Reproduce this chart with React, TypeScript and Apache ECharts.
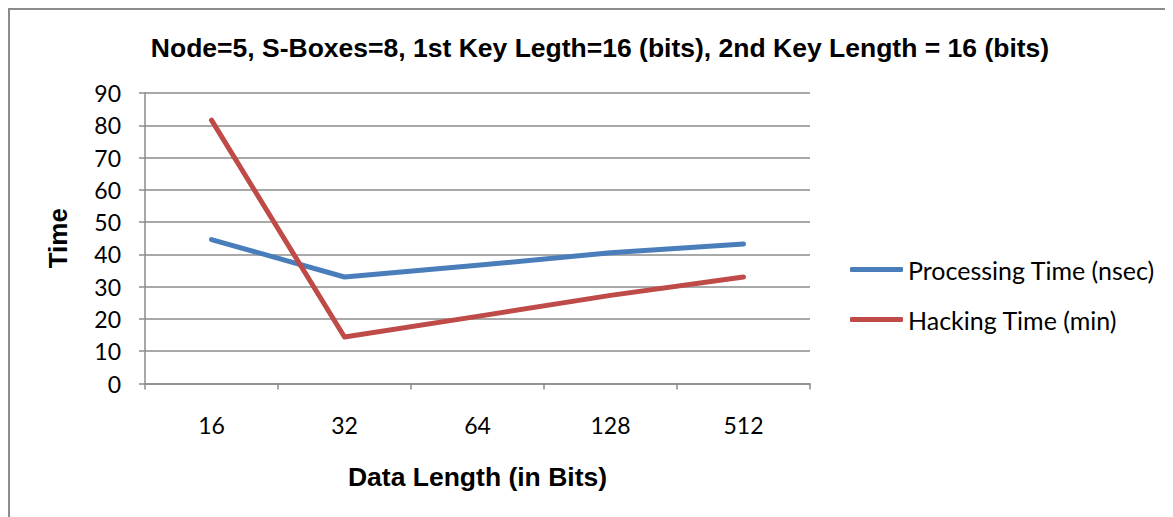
import React, { useEffect, useRef } from "react";
import * as echarts from "echarts";

const categories = ["16", "32", "64", "128", "512"];
const processingTime = [44.6, 33.0, 36.6, 40.5, 43.2];
const hackingTime = [81.6, 14.4, 20.8, 27.3, 33.0];
const seriesNames = ["Processing Time (nsec)", "Hacking Time (min)"];
const yTicks = { min: 0, max: 90, interval: 10 };

const labelFont = "Lato, 'Open Sans', sans-serif";
const boldFont = "'Liberation Sans', Arial, sans-serif";

export default function App() {
  const ref = useRef<HTMLDivElement>(null);
  useEffect(() => {
    if (!ref.current) return;
    const chart = echarts.init(ref.current, null, { renderer: "svg" });
    chart.setOption({
      animation: false,
      backgroundColor: "#ffffff",
      title: {
        text: "Node=5, S-Boxes=8, 1st Key Legth=16 (bits), 2nd Key Length = 16 (bits)",
        left: 587,
        textAlign: "center",
        top: 21,
        textStyle: { fontFamily: boldFont, fontWeight: "bold", fontSize: 26.5, color: "#000" },
      },
      graphic: [
        {
          type: "rect",
          shape: { x: 1, y: 1, width: 1300, height: 700 },
          style: { fill: "none", stroke: "#8c8c8c", lineWidth: 2 },
          silent: true,
        },
      ],
      legend: {
        orient: "vertical",
        left: 837,
        top: 244,
        itemWidth: 53,
        itemHeight: 5,
        itemGap: 25,
        icon: "roundRect",
        textStyle: { fontFamily: labelFont, fontSize: 25, color: "#000" },
        data: seriesNames,
      },
      grid: { left: 137, top: 85, right: 363, bottom: 133.5, containLabel: false },
      xAxis: {
        type: "category",
        data: categories,
        boundaryGap: true,
        name: "Data Length (in Bits)",
        nameLocation: "middle",
        nameGap: 80,
        nameTextStyle: { fontFamily: boldFont, fontWeight: "bold", fontSize: 26.5, color: "#000" },
        axisLine: { lineStyle: { color: "#8c8c8c", width: 1.5 } },
        axisTick: { show: true, length: 6, inside: false, lineStyle: { color: "#8c8c8c", width: 1.5 } },
        axisLabel: { margin: 30, fontFamily: labelFont, fontSize: 23, color: "#000" },
        splitLine: { show: false },
      },
      yAxis: {
        type: "value",
        min: yTicks.min,
        max: yTicks.max,
        interval: yTicks.interval,
        name: "Time",
        nameLocation: "middle",
        nameGap: 74,
        nameRotate: 90,
        nameTextStyle: { fontFamily: boldFont, fontWeight: "bold", fontSize: 26, color: "#000" },
        axisLine: { show: true, lineStyle: { color: "#8c8c8c", width: 1.5 } },
        axisTick: { show: true, length: 6, lineStyle: { color: "#8c8c8c", width: 1.5 } },
        axisLabel: { margin: 24, fontFamily: labelFont, fontSize: 23, color: "#000" },
        splitLine: { show: true, lineStyle: { color: "#8c8c8c", width: 1.5 } },
      },
      series: [
        {
          name: seriesNames[0],
          type: "line",
          data: processingTime,
          showSymbol: false,
          symbol: "none",
          lineStyle: { color: "#4a7ebb", width: 5, cap: "round", join: "round" },
          itemStyle: { color: "#4a7ebb" },
        },
        {
          name: seriesNames[1],
          type: "line",
          data: hackingTime,
          showSymbol: false,
          symbol: "none",
          lineStyle: { color: "#be4b48", width: 5, cap: "round", join: "round" },
          itemStyle: { color: "#be4b48" },
        },
      ],
    });
    return () => chart.dispose();
  }, []);
  return <div ref={ref} style={{ width: 1165, height: 509 }} />;
}
